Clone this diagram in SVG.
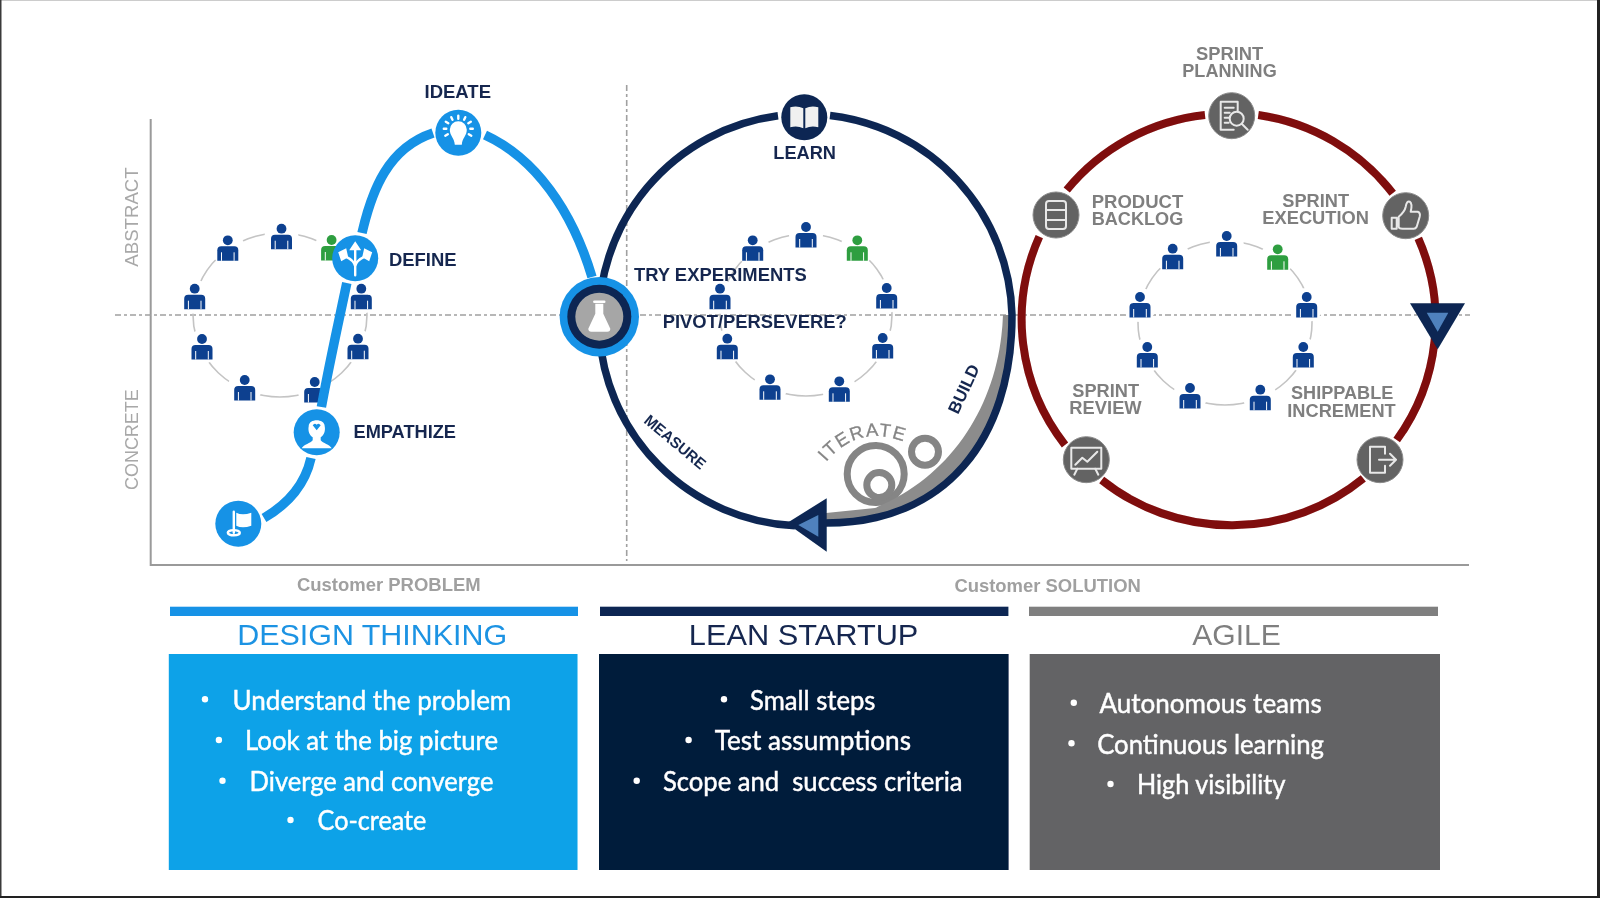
<svg xmlns="http://www.w3.org/2000/svg" width="1600" height="898" viewBox="0 0 1600 898">
<style>
text{font-family:"Liberation Sans",Arial,sans-serif}
.n{font-weight:700;font-size:18.4px;fill:#14284f}
.g{font-weight:700;font-size:18px;fill:#7f7f7f}
.ax{font-size:19px;fill:#a8a8a8}
.cu{font-weight:700;font-size:17.5px;fill:#a0a0a0}
.h{font-size:30px}
.b{font-family:Lato,"Open Sans",sans-serif;font-size:26px;fill:#fff;stroke:#fff;stroke-width:.45;white-space:pre}
.dash{stroke:#a0a0a0;stroke-width:1.6;stroke-dasharray:6 3 3 3;fill:none}
.ring{fill:none;stroke:#c4c4c4;stroke-width:1.6}
.blue{fill:none;stroke:#1592e6;stroke-width:9.5}
.navy{fill:none;stroke:#0a2652;stroke-width:7.5}
.red{fill:none;stroke:#7f0a0a;stroke-width:8}
.ic{fill:none;stroke:#e8e8e8;stroke-width:2;stroke-linejoin:round;stroke-linecap:round}
.w{fill:none;stroke:#fff;stroke-width:2.4;stroke-linecap:round;stroke-linejoin:round}
.it{fill:none;stroke:#858585;stroke-width:7}
</style>
<defs>
<filter id="soft" x="0" y="0" width="100%" height="100%"><feGaussianBlur stdDeviation="0.4"/></filter>
<g id="p">
<circle r="17" fill="#fff"/>
<circle cy="-8" r="4.9"/>
<path d="M-10.5 12.5V2Q-10.5-2-6.5-2H6.5Q10.5-2 10.5 2V12.5Z"/>
<path d="M-6.3 4V12.5M6.3 4V12.5" stroke="#fff" stroke-width="1" fill="none"/>
</g>
<circle id="ag" r="23" fill="#636363" stroke="#8a8a8a" stroke-width="1"/>
</defs>
<rect width="1600" height="898" fill="#fff"/>
<g filter="url(#soft)">
<g id="axes">
<path d="M150.7 119V565H1469" fill="none" stroke="#9a9a9a" stroke-width="2"/>
<path class="dash" d="M115 315H1470"/>
<path class="dash" d="M626.7 85V561"/>
<text class="ax" transform="translate(138 266.7) rotate(-90)" textLength="99.4" lengthAdjust="spacingAndGlyphs">ABSTRACT</text>
<text class="ax" transform="translate(138 490) rotate(-90)" textLength="100.7" lengthAdjust="spacingAndGlyphs">CONCRETE</text>
<text class="cu" x="297" y="590.7" textLength="183.6" lengthAdjust="spacingAndGlyphs">Customer PROBLEM</text>
<text class="cu" x="954.4" y="592" textLength="186.4" lengthAdjust="spacingAndGlyphs">Customer SOLUTION</text>
</g>
<g id="team-left" fill="#0a3f8f">
<ellipse class="ring" cx="280" cy="315" rx="87" ry="82"/>
<use href="#p" x="281.5" y="236.7"/><use href="#p" x="227.8" y="248.3"/><use href="#p" x="331.6" y="248" fill="#2e9e3f"/>
<use href="#p" x="194.7" y="296.7"/><use href="#p" x="361.3" y="296.7"/><use href="#p" x="202" y="347"/>
<use href="#p" x="358" y="346.7"/><use href="#p" x="244.7" y="388"/><use href="#p" x="314.7" y="390"/>
</g>
<g id="team-middle" fill="#0a3f8f">
<ellipse class="ring" cx="806" cy="315" rx="86" ry="81"/>
<use href="#p" x="806" y="235"/><use href="#p" x="752.7" y="248.3"/><use href="#p" x="857.3" y="248.3" fill="#2e9e3f"/>
<use href="#p" x="720" y="296.7"/><use href="#p" x="886.7" y="296"/><use href="#p" x="727.3" y="346.7"/>
<use href="#p" x="882.7" y="346"/><use href="#p" x="770" y="387.3"/><use href="#p" x="839.3" y="389.3"/>
</g>
<g id="team-right" fill="#0a3f8f">
<ellipse class="ring" cx="1225" cy="323" rx="87" ry="82"/>
<use href="#p" x="1226.7" y="244"/><use href="#p" x="1172.7" y="256.7"/><use href="#p" x="1277.7" y="257.3" fill="#2e9e3f"/>
<use href="#p" x="1140" y="305"/><use href="#p" x="1306.7" y="305"/><use href="#p" x="1147.3" y="355"/>
<use href="#p" x="1303.3" y="355"/><use href="#p" x="1190" y="396"/><use href="#p" x="1260.3" y="397.7"/>
</g>
<g id="iterate">
<circle class="it" cx="875.7" cy="474" r="28.5"/>
<circle class="it" cx="879.3" cy="485" r="12.5"/>
<circle class="it" cx="925" cy="451.7" r="13.5"/>
<path id="itp" d="M826 462Q858 424 905 442" fill="none"/>
<text font-size="18.5" fill="#858585" stroke="#858585" stroke-width=".3"><textPath href="#itp" textLength="86">ITERATE</textPath></text>
</g>
<g id="connectors">
<path class="blue" d="M264 518C288 504 305 485 311 458"/>
<path class="blue" d="M321.4 407C330 360 338 325 346.8 283"/>
<path class="blue" d="M362 233C372 190 388 148 433 133"/>
<path class="blue" d="M485 135C535 158 572 210 592 277"/>
<path d="M1012 315C1012 440 945 523 826 523V513L875 508C955 475 1000 400 1003 315Z" fill="#8c8c8c"/>
<path class="navy" d="M830 115.5A206 206 0 0 1 1012 315C1012 440 945 523 826 523"/>
<path class="navy" d="M795 525.8A206 206 0 0 1 778 115.8"/>
<path class="red" d="M1205 115A207 205 0 0 0 1066.7 190"/>
<path class="red" d="M1258.3 115A207 205 0 0 1 1392.7 193.3"/>
<path class="red" d="M1418.3 238.3A207 205 0 0 1 1396.7 440"/>
<path class="red" d="M1363.3 478.3A207 205 0 0 1 1101.7 480"/>
<path class="red" d="M1065 445A207 205 0 0 1 1039.3 236.7"/>
</g>
<g id="arrow-lean">
<polygon points="786.7,523.3 826.7,498.3 826.7,551.7" fill="#0a2652"/>
<polygon points="798.3,525 818.3,515 818.3,536.7" fill="#4f81bd"/>
</g>
<g id="arrow-agile">
<polygon points="1410,303.3 1465,303.3 1437.7,349.3" fill="#0a2652"/>
<polygon points="1426.7,312.7 1448.3,312.7 1437.7,331.7" fill="#4f81bd"/>
</g>
<g id="start" transform="translate(238.3 523.7)">
<circle r="23" fill="#1592e6"/>
<path class="w" d="M-4.5-12V9" stroke-width="2"/>
<path d="M-2-11Q4-8 13-11V2Q4 5-2 2Z" fill="#fff"/>
<ellipse cx="-4.5" cy="9" rx="6" ry="2.6" class="w" stroke-width="1.6"/>
</g>
<g id="empathize">
<g transform="translate(316.7 432.3)">
<circle r="23" fill="#1592e6"/>
<path d="M-8-6C-8-14 8-14 8-6C9-1 7 3 4 5V8C6 11 13 12 15 16H-15C-13 12-6 11-4 8V5C-7 3-9-1-8-6Z" fill="#fff"/>
<path d="M0-2L-4-7Q-2-10 0-7.5Q2-10 4-7Z" fill="#1592e6"/>
</g>
<text class="n" x="353.5" y="438" textLength="102.5" lengthAdjust="spacingAndGlyphs">EMPATHIZE</text>
</g>
<g id="define">
<g transform="translate(355.2 258.3)">
<circle r="23" fill="#1592e6"/>
<path class="w" stroke-width="3.4" d="M0 17V6M0 6V-9M0 8Q-1 2-10-2M0 8Q1 2 10-2" stroke-linecap="butt"/>
<path d="M0-17L6-8H-6ZM-17-6L-9-10L-7-1L-14 3ZM17-6L9-10L7-1L14 3Z" fill="#fff"/>
</g>
<text class="n" x="389" y="266" textLength="67.6" lengthAdjust="spacingAndGlyphs">DEFINE</text>
</g>
<g id="ideate">
<g transform="translate(458.3 132.7)">
<circle r="23" fill="#1592e6"/>
<path d="M-8.5-3A8.5 8.5 0 0 1 8.5-3C8.5 3 4 5 3.5 12H-3.5C-4 5-8.5 3-8.5-3Z" fill="#fff"/>
<path class="w" stroke-width="1.8" d="M0-17V-14M-7-15.5L-5.8-13M7-15.5L5.8-13M-12.5-11L-10-9.5M12.5-11L10-9.5M-14.5-4H-12M14.5-4H12M-13 3L-10.5 1.5M13 3L10.5 1.5"/>
</g>
<text class="n" x="424.5" y="98" textLength="66.5" lengthAdjust="spacingAndGlyphs">IDEATE</text>
</g>
<g id="test">
<g transform="translate(599.3 316.7)">
<circle r="39.7" fill="#1592e6"/>
<circle r="32" fill="#0a2652"/>
<circle r="24" fill="#a6a6a6"/>
<path d="M-4-13V-3L-11 12Q-11 15-8 15H8Q11 15 11 12L4-3V-13Z" fill="#fff"/>
<path class="w" d="M-5-15H5" stroke-width="1.8"/>
</g>
</g>
<g id="learn">
<g transform="translate(804.3 117.3)">
<circle r="23" fill="#0a2652"/>
<path d="M-14-10Q-7-12-1-9V11Q-7 8-14 10ZM1-9Q7-12 14-10V10Q7 8 1 11Z" fill="#f0f0f0"/>
</g>
<text class="n" x="773.3" y="159.3" textLength="62.7" lengthAdjust="spacingAndGlyphs">LEARN</text>
</g>
<g id="experiment-labels">
<text class="n" x="634" y="281" textLength="172.7" lengthAdjust="spacingAndGlyphs">TRY EXPERIMENTS</text>
<text class="n" x="662.7" y="328.3" textLength="184" lengthAdjust="spacingAndGlyphs">PIVOT/PERSEVERE?</text>
<text class="n" style="font-size:17px" transform="translate(958 415) rotate(-65)" textLength="52" lengthAdjust="spacingAndGlyphs">BUILD</text>
<text class="n" style="font-size:15.5px" transform="translate(643 422) rotate(40)" textLength="75" lengthAdjust="spacingAndGlyphs">MEASURE</text>
</g>
<g id="sprint-planning">
<g transform="translate(1231.7 115.7)">
<use href="#ag"/>
<path class="ic" d="M-11-14H6V-5M-11-14V14H2M-7-8H2M-7-3H-2M-7 2H-3M-7 7H-3"/>
<circle class="ic" cx="5" cy="3" r="7" stroke-width="2.4"/>
<path class="ic" d="M10 8L16 14" stroke-width="2.6"/>
</g>
<text class="g" x="1196" y="59.6" textLength="67.3" lengthAdjust="spacingAndGlyphs">SPRINT</text>
<text class="g" x="1182.3" y="77" textLength="94.4" lengthAdjust="spacingAndGlyphs">PLANNING</text>
</g>
<g id="product-backlog">
<g transform="translate(1056 215)">
<use href="#ag"/>
<rect class="ic" x="-10" y="-14" width="20" height="28" rx="3"/>
<path class="ic" d="M-10-5H10M-10 5H10"/>
</g>
<text class="g" x="1091.7" y="208.3" textLength="91.6" lengthAdjust="spacingAndGlyphs">PRODUCT</text>
<text class="g" x="1091.7" y="225.3" textLength="91.6" lengthAdjust="spacingAndGlyphs">BACKLOG</text>
</g>
<g id="sprint-execution">
<g transform="translate(1405.7 215.7)">
<use href="#ag"/>
<path class="ic" d="M-7 1Q-1-4 0-9Q1-15 4-14Q7-12 5-4H12Q15-3 14 1L11 11Q10 13 8 13H-3Q-7 13-7 11ZM-14 2H-9V13H-14Z"/>
</g>
<text class="g" x="1282.3" y="207.3" textLength="66.7" lengthAdjust="spacingAndGlyphs">SPRINT</text>
<text class="g" x="1262.3" y="224.3" textLength="106.7" lengthAdjust="spacingAndGlyphs">EXECUTION</text>
</g>
<g id="sprint-review">
<g transform="translate(1086.3 459.7)">
<use href="#ag"/>
<rect class="ic" x="-15" y="-12" width="30" height="21"/>
<path class="ic" d="M-11 5L-4-2L1 2L11-8M-9 9L-12 15M9 9L12 15"/>
</g>
<text class="g" x="1072.3" y="397.3" textLength="66.7" lengthAdjust="spacingAndGlyphs">SPRINT</text>
<text class="g" x="1069.3" y="414.3" textLength="72.4" lengthAdjust="spacingAndGlyphs">REVIEW</text>
</g>
<g id="shippable-increment">
<g transform="translate(1380 459.7)">
<use href="#ag"/>
<path class="ic" d="M5-6V-13H-10V13H5V6M-1 0H15M10-6L16 0L10 6"/>
</g>
<text class="g" x="1291" y="399" textLength="102.3" lengthAdjust="spacingAndGlyphs">SHIPPABLE</text>
<text class="g" x="1287.3" y="416.7" textLength="108.4" lengthAdjust="spacingAndGlyphs">INCREMENT</text>
</g>
<g id="design-thinking">
<rect x="170" y="606.7" width="408" height="9.3" fill="#1592e6"/>
<text class="h" x="237.2" y="644.5" fill="#1c93e3" textLength="270" lengthAdjust="spacingAndGlyphs">DESIGN THINKING</text>
<rect x="168.8" y="654" width="408.7" height="216" fill="#07a2e8"/>
<g fill="#fff"><circle cx="205" cy="699.3" r="3.2"/><circle cx="218.9" cy="740" r="3.2"/><circle cx="222.5" cy="780.7" r="3.2"/><circle cx="290.5" cy="820" r="3.2"/></g>
<text class="b" x="232.6" y="709.5" textLength="278.7" lengthAdjust="spacingAndGlyphs">Understand the problem</text>
<text class="b" x="245" y="750.3" textLength="253" lengthAdjust="spacingAndGlyphs">Look at the big picture</text>
<text class="b" x="249.6" y="790.8" textLength="243.8" lengthAdjust="spacingAndGlyphs">Diverge and converge</text>
<text class="b" x="317.6" y="830.2" textLength="108.8" lengthAdjust="spacingAndGlyphs">Co-create</text>
</g>
<g id="lean-startup">
<rect x="600" y="606.7" width="408.4" height="9.3" fill="#0a2652"/>
<text class="h" x="688.8" y="644.5" fill="#14284f" textLength="229.6" lengthAdjust="spacingAndGlyphs">LEAN STARTUP</text>
<rect x="599" y="654" width="409.6" height="216" fill="#051a3b"/>
<g fill="#fff"><circle cx="724" cy="699.3" r="3.2"/><circle cx="688.6" cy="740" r="3.2"/><circle cx="636.7" cy="780.7" r="3.2"/></g>
<text class="b" x="750" y="709.5" textLength="125.5" lengthAdjust="spacingAndGlyphs">Small steps</text>
<text class="b" x="714.7" y="750.3" textLength="196.3" lengthAdjust="spacingAndGlyphs">Test assumptions</text>
<text class="b" x="662.9" y="790.8" textLength="299.7" lengthAdjust="spacingAndGlyphs">Scope and  success criteria</text>
</g>
<g id="agile">
<rect x="1029" y="606.7" width="409" height="9.3" fill="#7f7f7f"/>
<text class="h" x="1192.2" y="644.5" fill="#7f7f7f" textLength="88.6" lengthAdjust="spacingAndGlyphs">AGILE</text>
<rect x="1029.7" y="654" width="410.3" height="216" fill="#636365"/>
<g fill="#fff"><circle cx="1073.8" cy="702.7" r="3.2"/><circle cx="1071.5" cy="743.3" r="3.2"/><circle cx="1110.5" cy="784" r="3.2"/></g>
<text class="b" x="1099.5" y="712.5" textLength="222.2" lengthAdjust="spacingAndGlyphs">Autonomous teams</text>
<text class="b" x="1097.2" y="753.5" textLength="226.8" lengthAdjust="spacingAndGlyphs">Continuous learning</text>
<text class="b" x="1137" y="793.5" textLength="148.4" lengthAdjust="spacingAndGlyphs">High visibility</text>
</g>
</g>
<g id="frame">
<rect x="0" y="0" width="1600" height="1" fill="#ccc"/>
<rect x="0" y="0" width="1.5" height="898" fill="#3a3a3a"/>
<rect x="0" y="896" width="1600" height="2" fill="#222"/>
<rect x="1597" y="0" width="3" height="898" fill="#222"/>
</g>
</svg>
